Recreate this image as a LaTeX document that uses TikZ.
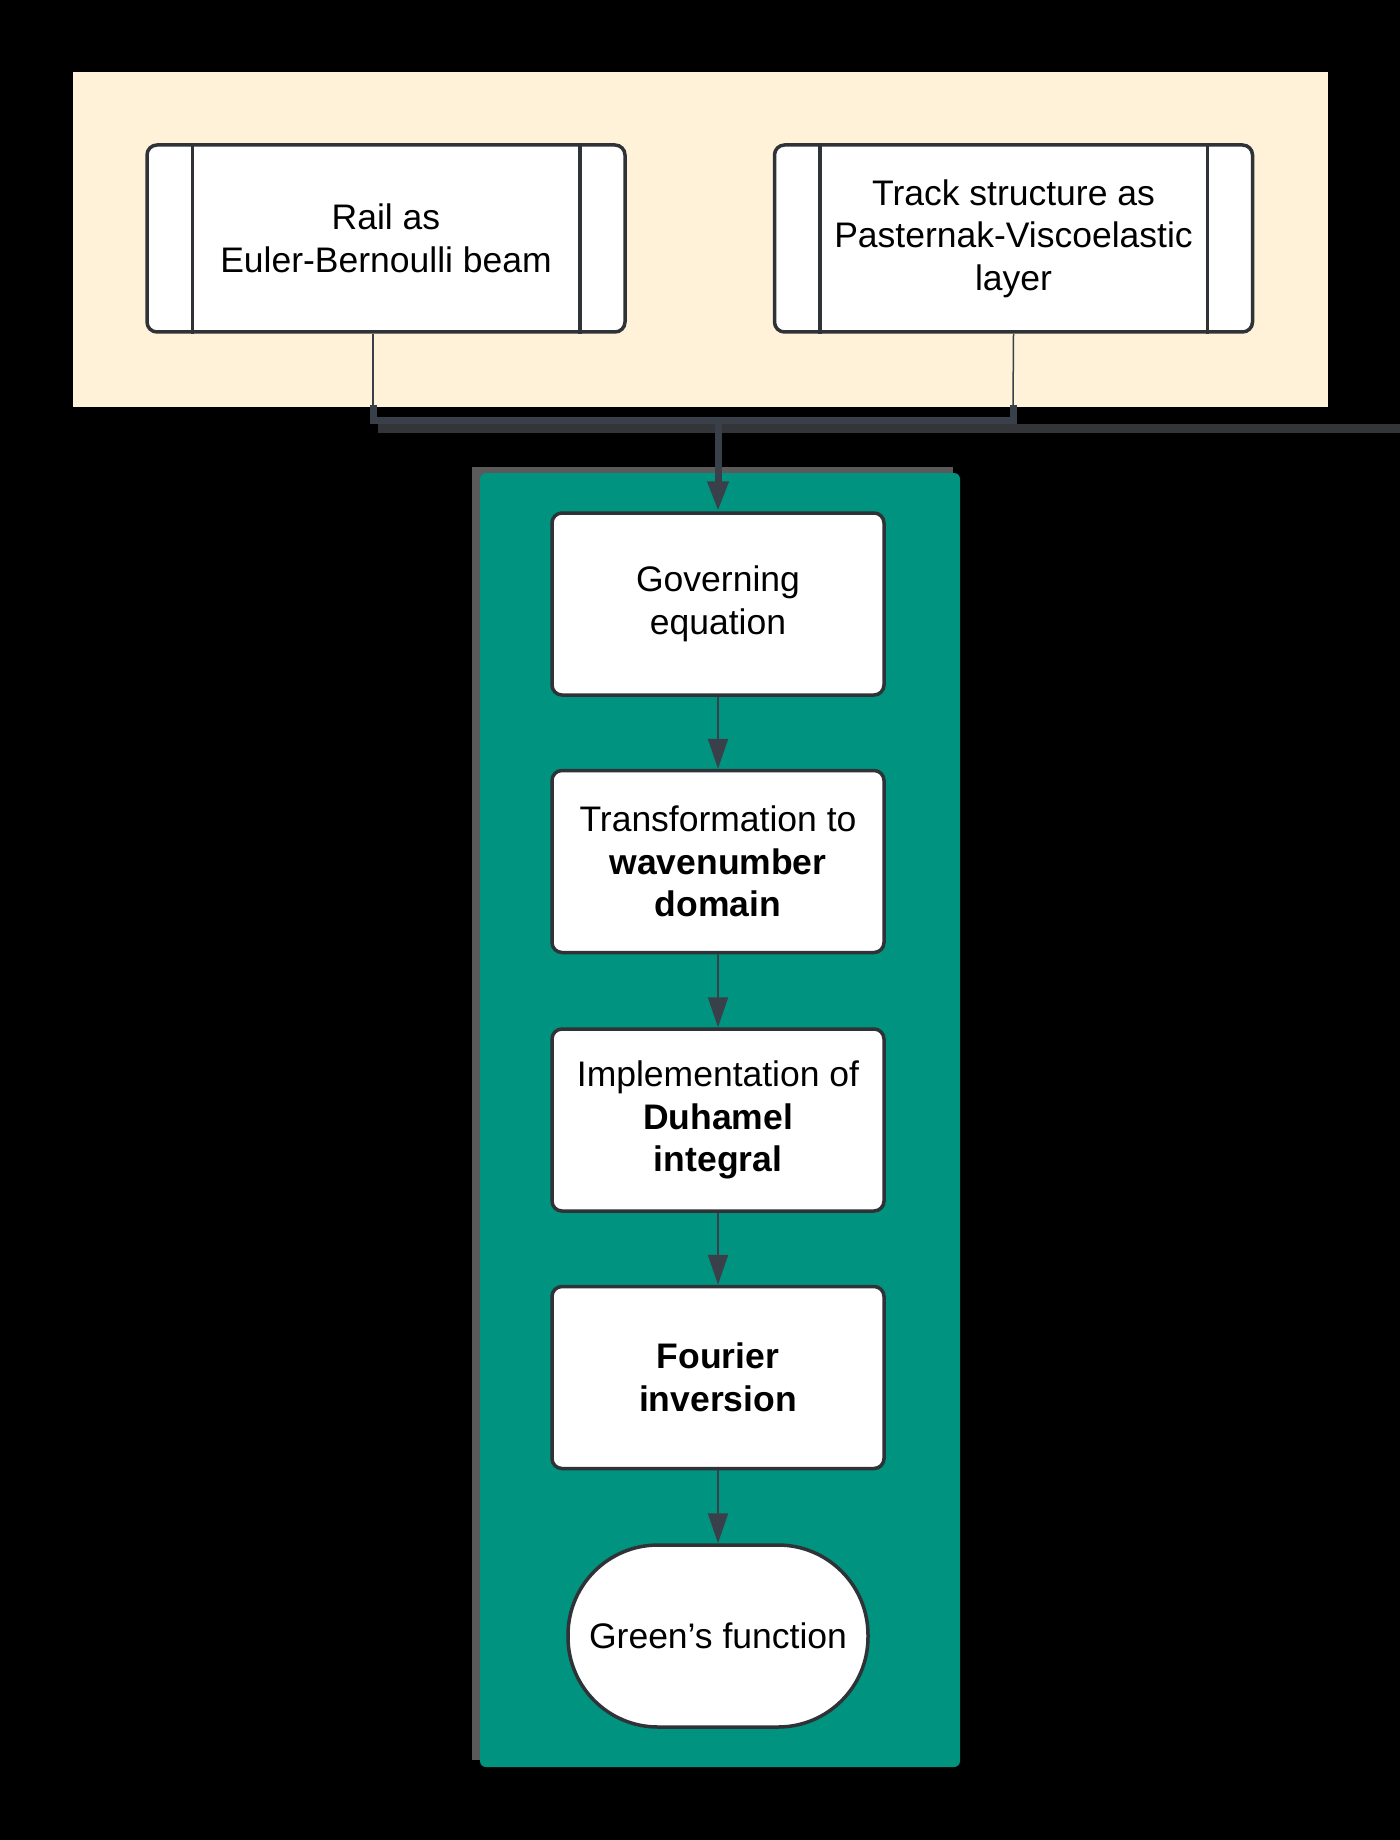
\documentclass[tikz,border=0pt]{standalone}
\usepackage{fontspec}
\setmainfont{Liberation Sans}
\usetikzlibrary{arrows.meta}
\definecolor{beige}{HTML}{FFF2D9}
\definecolor{tealbg}{HTML}{009380}
\definecolor{boxline}{HTML}{2F3237}
\definecolor{conn}{HTML}{3A4049}
\definecolor{shadowc}{HTML}{333538}
\definecolor{panelshadow}{HTML}{5A5A5A}
\begin{document}
\begin{tikzpicture}[x=0.5pt,y=-0.5pt,
  txt/.style={font=\fontsize{17.75pt}{21.3pt}\selectfont, align=center, text=black},
  sidebox/.style={txt, draw=boxline, line width=1.75pt, fill=white, rounded corners=5pt, minimum width=239pt, minimum height=93.5pt, inner sep=0pt},
  flowbox/.style={txt, draw=boxline, line width=1.75pt, fill=white, rounded corners=5pt, minimum width=166pt, minimum height=91pt, inner sep=0pt},
  termbox/.style={flowbox, minimum width=150pt, rounded corners=45pt},
  flowarrow/.style={draw=conn, line width=1pt, -{Triangle[length=15pt,width=10pt]}},
  thinconn/.style={draw=conn, line width=0.75pt},
  bracket/.style={draw=conn, line width=3.5pt, line join=miter},
  innerline/.style={draw=boxline, line width=1.75pt},
]
\useasboundingbox (0,0) rectangle (1400,1840);
\fill[black] (0,0) rectangle (1400,1840);
% panels
\fill[beige] (73,72) rectangle (1328,407);
\fill[panelshadow] (472,467) rectangle (953,1760);
\fill[tealbg, rounded corners=3pt] (480,473) rectangle (960,1767);

% top boxes
\node[sidebox] (rail) at (386,238.5) {Rail as\\Euler-Bernoulli beam};
\node[sidebox] (track) at (1013.5,238.5) {Track structure as\\Pasternak-Viscoelastic\\layer};
\foreach \n in {rail,track}{
  \draw[innerline] ([xshift=23.5pt]\n.north west) -- ([xshift=23.5pt]\n.south west);
  \draw[innerline] ([xshift=-23.5pt]\n.north east) -- ([xshift=-23.5pt]\n.south east);
}

% flow boxes
\node[flowbox] (gov) at (718,604) {Governing\\equation};
\node[flowbox] (trans) at (718,861.5) {Transformation to\\\textbf{wavenumber}\\\textbf{domain}};
\node[flowbox] (duh) at (718,1120) {Implementation of\\\textbf{Duhamel}\\\textbf{integral}};
\node[flowbox] (four) at (718,1377.5) {\textbf{Fourier}\\\textbf{inversion}};
\node[termbox] (green) at (718,1636) {Green’s function};

% junction connectors
\coordinate (rj) at (373,405);
\coordinate (tj) at (1013,405);
\coordinate (rb) at (373,420);
\coordinate (tb) at (1013,420);
\coordinate (mid) at (718,420);
\coordinate (sh1) at (378,428);
\coordinate (sh2) at (1400,428);
\draw[thinconn] ([xshift=-6.5pt]rail.south) -- (rj);
\draw[thinconn] (track.south) -- (tj);
\draw[shadowc, line width=4.5pt] (sh1) -- (sh2);
\draw[bracket] (rj) -- (rb) -- (tb) -- (tj);
\draw[draw=conn, line width=3.5pt, -{Triangle[length=15pt,width=10pt]}] (mid) -- (gov.north);

% flow arrows
\draw[flowarrow] (gov) -- (trans);
\draw[flowarrow] (trans) -- (duh);
\draw[flowarrow] (duh) -- (four);
\draw[flowarrow] (four) -- (green);
\end{tikzpicture}
\end{document}
